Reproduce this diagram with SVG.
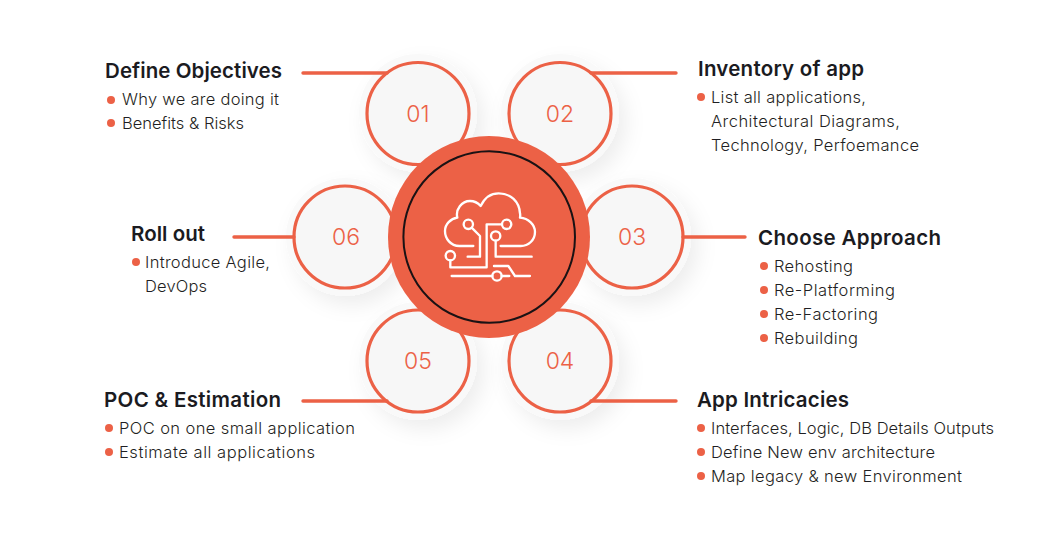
<svg xmlns="http://www.w3.org/2000/svg" width="1060" height="550" viewBox="0 0 1060 550">
<defs>
<filter id="sh" x="-40%" y="-40%" width="190%" height="190%"><feDropShadow dx="7" dy="9" stdDeviation="10" flood-color="#000" flood-opacity="0.07"/></filter>
</defs>
<style>
text{font-family:Inter,"Liberation Sans",sans-serif}
.h{font-size:20.500px;font-weight:600;fill:#1b1b1f}
.b{font-size:16.500px;font-weight:300;fill:#1f1f23}
.n{font-size:23px;font-weight:300;fill:#ec6146;text-anchor:middle}
.dot{fill:#ec6146}
.halo{fill:#f9f9f9;filter:url(#sh)}
.ring{fill:#f7f7f7;stroke:#ec6146;stroke-width:3.2}
.conn{stroke:#ec6146;stroke-width:3.4;stroke-linecap:round;fill:none}
.ic{fill:none;stroke:#fff;stroke-width:7;stroke-linecap:round;stroke-linejoin:round}
</style>
<rect width="1060" height="550" fill="#fff"/>
<g id="node-01"><circle class="halo" cx="418" cy="113" r="59"/><circle class="ring" cx="418" cy="113.500" r="51"/><text class="n" x="418" y="122">01</text>
<text class="h" x="105" y="78" textLength="177">Define Objectives</text>
<circle class="dot" cx="111" cy="100" r="4"/><text class="b" x="122" y="105" textLength="157">Why we are doing it</text>
<circle class="dot" cx="111" cy="123" r="4"/><text class="b" x="122" y="129" textLength="122">Benefits &amp; Risks</text></g>
<g id="node-02"><circle class="halo" cx="560" cy="113" r="59"/><circle class="ring" cx="560" cy="113.500" r="51"/><text class="n" x="560" y="122">02</text>
<text class="h" x="698" y="76" textLength="166">Inventory of app</text>
<circle class="dot" cx="701" cy="97" r="4"/><text class="b" x="711" y="103" textLength="155">List all applications,</text>
<text class="b" x="711" y="127" textLength="189">Architectural Diagrams,</text>
<text class="b" x="711" y="151" textLength="208">Technology, Perfoemance</text></g>
<g id="node-03"><circle class="halo" cx="632" cy="237" r="59"/><circle class="ring" cx="632" cy="237" r="51"/><text class="n" x="632" y="245">03</text>
<text class="h" x="758" y="245" textLength="183">Choose Approach</text>
<circle class="dot" cx="764" cy="266" r="4"/><text class="b" x="774" y="272" textLength="79">Rehosting</text>
<circle class="dot" cx="764" cy="290" r="4"/><text class="b" x="774" y="296" textLength="121">Re-Platforming</text>
<circle class="dot" cx="764" cy="314" r="4"/><text class="b" x="774" y="320" textLength="104">Re-Factoring</text>
<circle class="dot" cx="764" cy="338" r="4"/><text class="b" x="774" y="344" textLength="84">Rebuilding</text></g>
<g id="node-04"><circle class="halo" cx="560" cy="361" r="59"/><circle class="ring" cx="560" cy="361" r="51"/><text class="n" x="560" y="369">04</text>
<text class="h" x="697" y="407" textLength="152">App Intricacies</text>
<circle class="dot" cx="701" cy="428" r="4"/><text class="b" x="711" y="434" textLength="283">Interfaces, Logic, DB Details Outputs</text>
<circle class="dot" cx="701" cy="452" r="4"/><text class="b" x="711" y="458" textLength="224">Define New env architecture</text>
<circle class="dot" cx="701" cy="476" r="4"/><text class="b" x="711" y="482" textLength="251">Map legacy &amp; new Environment</text></g>
<g id="node-05"><circle class="halo" cx="418" cy="361" r="59"/><circle class="ring" cx="418" cy="361" r="51"/><text class="n" x="418" y="369">05</text>
<text class="h" x="104" y="407" textLength="177">POC &amp; Estimation</text>
<circle class="dot" cx="109" cy="428" r="4"/><text class="b" x="119" y="434" textLength="236">POC on one small application</text>
<circle class="dot" cx="109" cy="452" r="4"/><text class="b" x="119" y="458" textLength="196">Estimate all applications</text></g>
<g id="node-06"><circle class="halo" cx="345" cy="237" r="59"/><circle class="ring" cx="345" cy="237" r="51"/><text class="n" x="346" y="245">06</text>
<text class="h" x="131" y="241" textLength="74">Roll out</text>
<circle class="dot" cx="136" cy="262" r="4"/><text class="b" x="145" y="268" textLength="125">Introduce Agile,</text>
<text class="b" x="145" y="292" textLength="62">DevOps</text></g>
<g id="connectors">
<path class="conn" d="M303 73H387M591 73H676M683 237H745M591 401H676M303 401H387M234 237H294"/>
</g>
<g id="center"><circle cx="489" cy="237" r="101" fill="#ec6146"/><circle cx="489.200" cy="237" r="85.800" fill="none" stroke="#1a1214" stroke-width="2"/>
<g transform="translate(380 130) scale(.3333)" class="ic">
<path d="M280 348H238C212 348 195 326 195 303C195 282 212 266 232 263C226 238 245 213 270 213C284 213 294 219 302 228C314 203 334 190 356 190C392 190 418 215 420 250C421 254 421 258 420 263C446 265 465 285 465 306C465 330 446 348 422 348H362"/>
<circle cx="265" cy="283" r="14"/><circle cx="380" cy="283" r="14"/><circle cx="347" cy="318" r="14"/><circle cx="211" cy="377" r="14"/><circle cx="351" cy="438" r="14"/>
<path d="M275 293L300 318V380H263M366 283H320V412H211V391M347 332V380H455M342 408H385L405 438H450M215 438H337M365 438H388"/>
</g></g>
</svg>
